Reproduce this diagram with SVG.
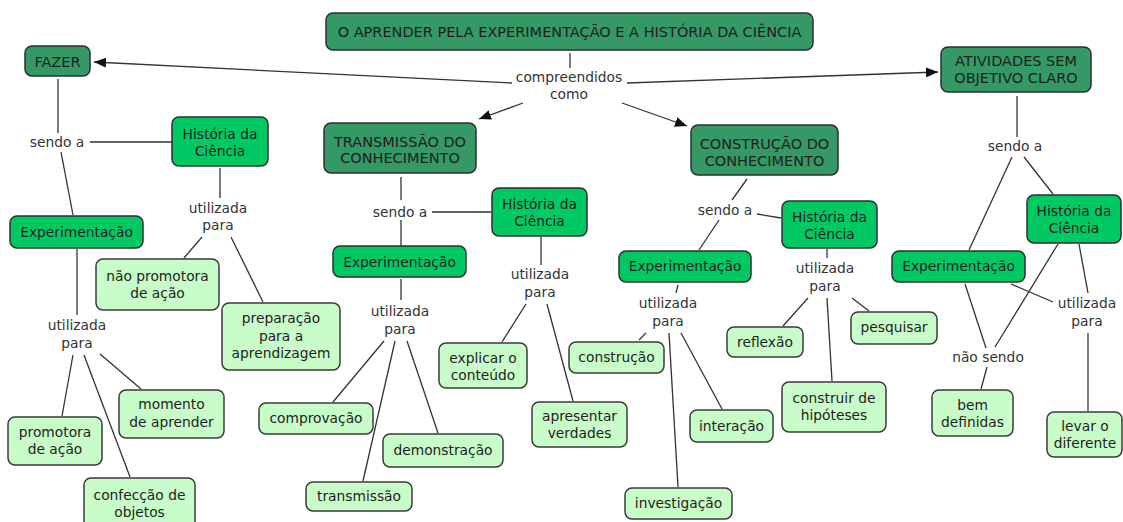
<svg xmlns="http://www.w3.org/2000/svg" width="1123" height="522" viewBox="0 0 1123 522">
<defs>
<marker id="ah" viewBox="0 0 12 10" refX="12" refY="5" markerWidth="12" markerHeight="10" markerUnits="userSpaceOnUse" orient="auto">
<path d="M0,0 L12,5 L0,10 Z" fill="#111"/>
</marker>
<style>
text{font-family:"DejaVu Sans","Liberation Sans",sans-serif;font-size:13.8px;fill:#1e1e1e;text-anchor:middle;dominant-baseline:central}
.lbl{fill:#333}
.d text{font-size:14.5px}
.d rect{fill:#349965;stroke:#2e2e2e;stroke-width:1.5}
.b rect{fill:#00c964;stroke:#2e2e2e;stroke-width:1.5}
.l rect{fill:#c8fcc8;stroke:#3a3a3a;stroke-width:1.5}
#connectors line{stroke:#333;stroke-width:1.3;fill:none}
#connectors .a{marker-end:url(#ah)}
</style>
</defs>
<rect width="1123" height="522" fill="#fff"/>
<g id="connectors">
<line x1="570" y1="53" x2="570" y2="68"/>
<line class="a" x1="512" y1="83" x2="94" y2="62"/>
<line class="a" x1="627" y1="83" x2="938" y2="72"/>
<line class="a" x1="523" y1="103" x2="479" y2="119"/>
<line class="a" x1="622" y1="103" x2="687" y2="126"/>
<line x1="58" y1="79" x2="58" y2="133"/>
<line x1="90" y1="142" x2="172" y2="142"/>
<line x1="61" y1="152" x2="73" y2="215"/>
<line x1="220" y1="168" x2="220" y2="198"/>
<line x1="202" y1="237" x2="184" y2="258"/>
<line x1="231" y1="237" x2="263" y2="302"/>
<line x1="77" y1="249" x2="77" y2="315"/>
<line x1="73" y1="355" x2="62" y2="416"/>
<line x1="84" y1="355" x2="130" y2="477"/>
<line x1="100" y1="354" x2="141" y2="389"/>
<line x1="401" y1="177" x2="401" y2="200"/>
<line x1="432" y1="212" x2="491" y2="212"/>
<line x1="401" y1="220" x2="401" y2="246"/>
<line x1="401" y1="279" x2="401" y2="300"/>
<line x1="384" y1="341" x2="333" y2="402"/>
<line x1="395" y1="341" x2="363" y2="481"/>
<line x1="407" y1="341" x2="438" y2="433"/>
<line x1="541" y1="237" x2="541" y2="265"/>
<line x1="526" y1="304" x2="502" y2="342"/>
<line x1="547" y1="304" x2="573" y2="401"/>
<line x1="747" y1="179" x2="732" y2="200"/>
<line x1="757" y1="214" x2="781" y2="218"/>
<line x1="719" y1="220" x2="699" y2="250"/>
<line x1="678" y1="285" x2="676" y2="293"/>
<line x1="646" y1="333" x2="639" y2="340"/>
<line x1="669" y1="333" x2="678" y2="487"/>
<line x1="681" y1="333" x2="722" y2="409"/>
<line x1="827" y1="249" x2="827" y2="258"/>
<line x1="808" y1="298" x2="783" y2="326"/>
<line x1="827" y1="298" x2="832" y2="381"/>
<line x1="852" y1="298" x2="869" y2="311"/>
<line x1="1017" y1="96" x2="1017" y2="137"/>
<line x1="1012" y1="157" x2="969" y2="250"/>
<line x1="1024" y1="157" x2="1053" y2="194"/>
<line x1="1058" y1="244" x2="995" y2="347"/>
<line x1="1079" y1="244" x2="1088" y2="293"/>
<line x1="965" y1="284" x2="986" y2="348"/>
<line x1="1011" y1="284" x2="1053" y2="302"/>
<line x1="987" y1="367" x2="981" y2="389"/>
<line x1="1088" y1="333" x2="1088" y2="411"/>
</g>
<g id="labels">
<text class="lbl" x="569"><tspan x="569" y="77">compreendidos</tspan><tspan x="569" y="94">como</tspan></text>
<text class="lbl" x="57" y="142">sendo a</text>
<text class="lbl"><tspan x="218" y="208">utilizada</tspan><tspan x="218" y="225">para</tspan></text>
<text class="lbl"><tspan x="77" y="325">utilizada</tspan><tspan x="77" y="343">para</tspan></text>
<text class="lbl" x="400" y="212">sendo a</text>
<text class="lbl"><tspan x="400" y="311">utilizada</tspan><tspan x="400" y="329">para</tspan></text>
<text class="lbl"><tspan x="540" y="274">utilizada</tspan><tspan x="540" y="292">para</tspan></text>
<text class="lbl" x="725" y="210">sendo a</text>
<text class="lbl"><tspan x="668" y="303">utilizada</tspan><tspan x="668" y="321">para</tspan></text>
<text class="lbl"><tspan x="825" y="268">utilizada</tspan><tspan x="825" y="286">para</tspan></text>
<text class="lbl" x="1015" y="146">sendo a</text>
<text class="lbl" x="988" y="357">não sendo</text>
<text class="lbl"><tspan x="1087" y="303">utilizada</tspan><tspan x="1087" y="321">para</tspan></text>
</g>
<g id="title" class="d"><rect x="326" y="13" width="487" height="37" rx="7"/><text x="569.5" y="32">O APRENDER PELA EXPERIMENTAÇÃO E A HISTÓRIA DA CIÊNCIA</text></g>
<g id="fazer" class="d"><rect x="25" y="46" width="65" height="30" rx="7"/><text x="57.5" y="62">FAZER</text></g>
<g id="atividades" class="d"><rect x="941" y="47" width="150" height="45" rx="7"/><text><tspan x="1016" y="61">ATIVIDADES SEM</tspan><tspan x="1016" y="78">OBJETIVO CLARO</tspan></text></g>
<g id="transmissao" class="d"><rect x="324" y="123" width="152" height="50" rx="7"/><text><tspan x="400" y="142">TRANSMISSÃO DO</tspan><tspan x="400" y="158">CONHECIMENTO</tspan></text></g>
<g id="construcao" class="d"><rect x="691" y="125" width="147" height="50" rx="7"/><text><tspan x="764.5" y="144">CONSTRUÇÃO DO</tspan><tspan x="764.5" y="161">CONHECIMENTO</tspan></text></g>
<g id="hist1" class="b"><rect x="172" y="117" width="96" height="49" rx="7"/><text><tspan x="220" y="134">História da</tspan><tspan x="220" y="151">Ciência</tspan></text></g>
<g id="exp1" class="b"><rect x="10" y="216" width="133" height="32" rx="7"/><text x="76.5" y="232">Experimentação</text></g>
<g id="naoprom" class="l"><rect x="96" y="259" width="123" height="51" rx="7"/><text><tspan x="157.5" y="276">não promotora</tspan><tspan x="157.5" y="293">de ação</tspan></text></g>
<g id="prep" class="l"><rect x="222" y="303" width="118" height="67" rx="7"/><text><tspan x="281" y="318">preparação</tspan><tspan x="281" y="336">para a</tspan><tspan x="281" y="353">aprendizagem</tspan></text></g>
<g id="promo" class="l"><rect x="8" y="417" width="94" height="48" rx="7"/><text><tspan x="55" y="432">promotora</tspan><tspan x="55" y="449">de ação</tspan></text></g>
<g id="momento" class="l"><rect x="119" y="390" width="105" height="48" rx="7"/><text><tspan x="171.5" y="404">momento</tspan><tspan x="171.5" y="422">de aprender</tspan></text></g>
<g id="confeccao" class="l"><rect x="84" y="478" width="111" height="52" rx="7"/><text><tspan x="139.5" y="495">confecção de</tspan><tspan x="139.5" y="512">objetos</tspan></text></g>
<g id="hist2" class="b"><rect x="492" y="188" width="95" height="48" rx="7"/><text><tspan x="539.5" y="204">História da</tspan><tspan x="539.5" y="221">Ciência</tspan></text></g>
<g id="exp2" class="b"><rect x="333" y="246" width="133" height="31" rx="7"/><text x="399.5" y="262">Experimentação</text></g>
<g id="comprovacao" class="l"><rect x="259" y="403" width="114" height="31" rx="7"/><text x="316" y="418">comprovação</text></g>
<g id="transmissao2" class="l"><rect x="306" y="482" width="106" height="29" rx="7"/><text x="359" y="496">transmissão</text></g>
<g id="demonstracao" class="l"><rect x="383" y="434" width="120" height="33" rx="7"/><text x="443" y="450">demonstração</text></g>
<g id="explicar" class="l"><rect x="439" y="343" width="88" height="45" rx="7"/><text><tspan x="483" y="358">explicar o</tspan><tspan x="483" y="375">conteúdo</tspan></text></g>
<g id="apresentar" class="l"><rect x="532" y="402" width="95" height="45" rx="7"/><text><tspan x="579.5" y="416">apresentar</tspan><tspan x="579.5" y="433">verdades</tspan></text></g>
<g id="hist3" class="b"><rect x="782" y="201" width="95" height="47" rx="7"/><text><tspan x="829.5" y="217">História da</tspan><tspan x="829.5" y="234">Ciência</tspan></text></g>
<g id="exp3" class="b"><rect x="619" y="251" width="132" height="31" rx="7"/><text x="685" y="266">Experimentação</text></g>
<g id="construcao2" class="l"><rect x="569" y="342" width="95" height="31" rx="7"/><text x="616.5" y="357">construção</text></g>
<g id="interacao" class="l"><rect x="690" y="410" width="83" height="32" rx="7"/><text x="731.5" y="426">interação</text></g>
<g id="investigacao" class="l"><rect x="625" y="488" width="107" height="31" rx="7"/><text x="678.5" y="503">investigação</text></g>
<g id="reflexao" class="l"><rect x="727" y="327" width="76" height="30" rx="7"/><text x="765" y="342">reflexão</text></g>
<g id="pesquisar" class="l"><rect x="851" y="312" width="86" height="32" rx="7"/><text x="894" y="327">pesquisar</text></g>
<g id="hipoteses" class="l"><rect x="782" y="382" width="104" height="50" rx="7"/><text><tspan x="834" y="398">construir de</tspan><tspan x="834" y="415">hipóteses</tspan></text></g>
<g id="hist4" class="b"><rect x="1027" y="195" width="94" height="48" rx="7"/><text><tspan x="1074" y="211">História da</tspan><tspan x="1074" y="228">Ciência</tspan></text></g>
<g id="exp4" class="b"><rect x="892" y="251" width="133" height="31" rx="7"/><text x="958.5" y="266">Experimentação</text></g>
<g id="bem" class="l"><rect x="932" y="390" width="81" height="46" rx="7"/><text><tspan x="972.5" y="405">bem</tspan><tspan x="972.5" y="422">definidas</tspan></text></g>
<g id="levar" class="l"><rect x="1047" y="412" width="75" height="45" rx="7"/><text><tspan x="1085" y="426">levar o</tspan><tspan x="1085" y="443">diferente</tspan></text></g>
</svg>
